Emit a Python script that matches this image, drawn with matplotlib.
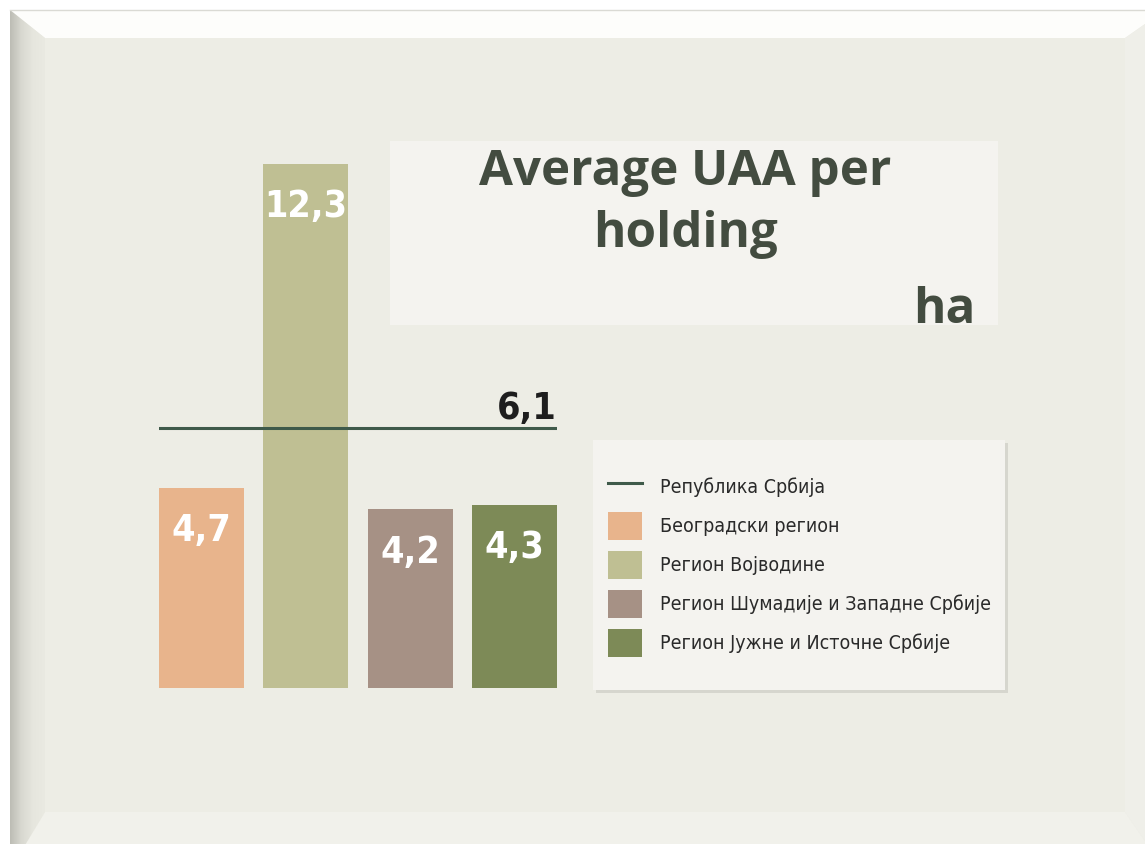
import numpy as np
import matplotlib.pyplot as plt
from matplotlib.colors import LinearSegmentedColormap
from matplotlib.patches import Rectangle, Polygon, Patch
from matplotlib.lines import Line2D

# data
regions = [
    "Београдски регион",
    "Регион Војводине",
    "Регион Шумадије и Западне Србије",
    "Регион Јужне и Источне Србије",
]
values = [4.7, 12.3, 4.2, 4.3]
value_labels = ["4,7", "12,3", "4,2", "4,3"]
serbia_label = "Република Србија"
serbia_value = 6.1
serbia_text = "6,1"

bar_colors = ["#E8B48C", "#BFBF93", "#A69185", "#7D8A57"]
line_color = "#3F5A4A"
bg_color = "#EDEDE5"
box_color = "#F4F3EF"
title_color = "#434C40"

W, H = 1145, 844
fig = plt.figure(figsize=(W / 100, H / 100), dpi=100)
fig.patch.set_facecolor("white")

# background with bevelled frame, drawn in pixel coords
bg = fig.add_axes([0, 0, 1, 1])
bg.axis("off")
ox0, oy0, ox1, oy1 = 10, 10, 1165, 870
ix0, iy0, ix1, iy1 = 45, 38, 1125, 812
bg.add_patch(Rectangle((ox0, oy0), ox1 - ox0, oy1 - oy0, color=bg_color, lw=0))
bg.add_patch(Polygon([(ox0, oy0), (ox1, oy0), (ix1, iy0), (ix0, iy0)],
                     color="#FDFDFB", lw=0))
bg.add_patch(Polygon([(ox0, oy1), (ix0, iy1), (ix1, iy1), (ox1, oy1)],
                     color="#F1F1EB", lw=0))
bg.add_patch(Polygon([(ox1, oy0), (ox1, oy1), (ix1, iy1), (ix1, iy0)],
                     color="#EFEFE9", lw=0))
# left bevel: horizontal gradient clipped to its trapezoid
left = Polygon([(ox0, oy0), (ix0, iy0), (ix0, iy1), (ox0, oy1)],
               facecolor="none", lw=0)
bg.add_patch(left)
bevel_cmap = LinearSegmentedColormap.from_list(
    "bev", ["#BDBDB5", "#D9D9D1", "#E6E6DE", "#EAEAE2"])
grad = np.linspace(0, 1, 64).reshape(1, -1)
im = bg.imshow(grad, extent=(ox0, ix0, oy1, oy0), cmap=bevel_cmap,
               aspect="auto", zorder=1)
im.set_clip_path(left)
bg.plot([ox0, ix1 + 20], [oy0, oy0], color="#DADAD4", lw=1)
bg.set_xlim(0, W)
bg.set_ylim(H, 0)

# title box
bg.add_patch(Rectangle((390, 141), 608, 184, color=box_color, lw=0, zorder=2))
# legend box with soft shadow
bg.add_patch(Rectangle((596, 443), 412, 250, color="#D6D6CE", lw=0, zorder=2))
bg.add_patch(Rectangle((593, 440), 412, 250, color=box_color, lw=0, zorder=2))

# main bar axes
ax = fig.add_axes([159 / W, (H - 688) / H, (557 - 159) / W, 588 / H])
ax.set_facecolor("none")
x = range(len(values))
bars = ax.bar(x, values, width=0.815, color=bar_colors)
ax.set_xlim(-0.4075, 3.4075)
ax.set_ylim(0, 588 / 42.6)
ax.axis("off")

ax.axhline(serbia_value, color=line_color, lw=2.2)
ax.text(3.4075, serbia_value + 0.21, serbia_text, ha="right", va="baseline",
        fontsize=27, fontweight="bold", fontstretch="condensed",
        family="DejaVu Sans", color="#1E1E1E")

for xi, v, lab in zip(x, values, value_labels):
    ax.text(xi, v - 1.02, lab, ha="center", va="center", fontsize=27,
            fontweight="bold", fontstretch="condensed", family="DejaVu Sans",
            color="white")

# title
title_kw = dict(fontsize=35.5, fontweight="bold", family="Open Sans",
                color=title_color, va="baseline")
fig.text(685 / W, 1 - 185 / H, "Average UAA per", ha="center", **title_kw)
fig.text(686 / W, 1 - 247 / H, "holding", ha="center", **title_kw)
fig.text(976 / W, 1 - 323 / H, "ha", ha="right", **title_kw)

# legend
handles = [Line2D([0], [0], color=line_color, lw=2.2)]
handles += [Patch(facecolor=c, edgecolor="none") for c in bar_colors]
labels = [serbia_label] + regions
leg = fig.legend(handles, labels, loc="upper left",
                 bbox_to_anchor=(608 / W, 1 - 473 / H), frameon=False,
                 prop={"family": "DejaVu Sans", "stretch": "condensed", "size": 14},
                 labelcolor="#2A2A2A", handlelength=1.75, handleheight=1.85,
                 handletextpad=0.95, labelspacing=0.56, borderpad=0,
                 borderaxespad=0)

fig.savefig("out.png", dpi=100, facecolor=fig.get_facecolor())
